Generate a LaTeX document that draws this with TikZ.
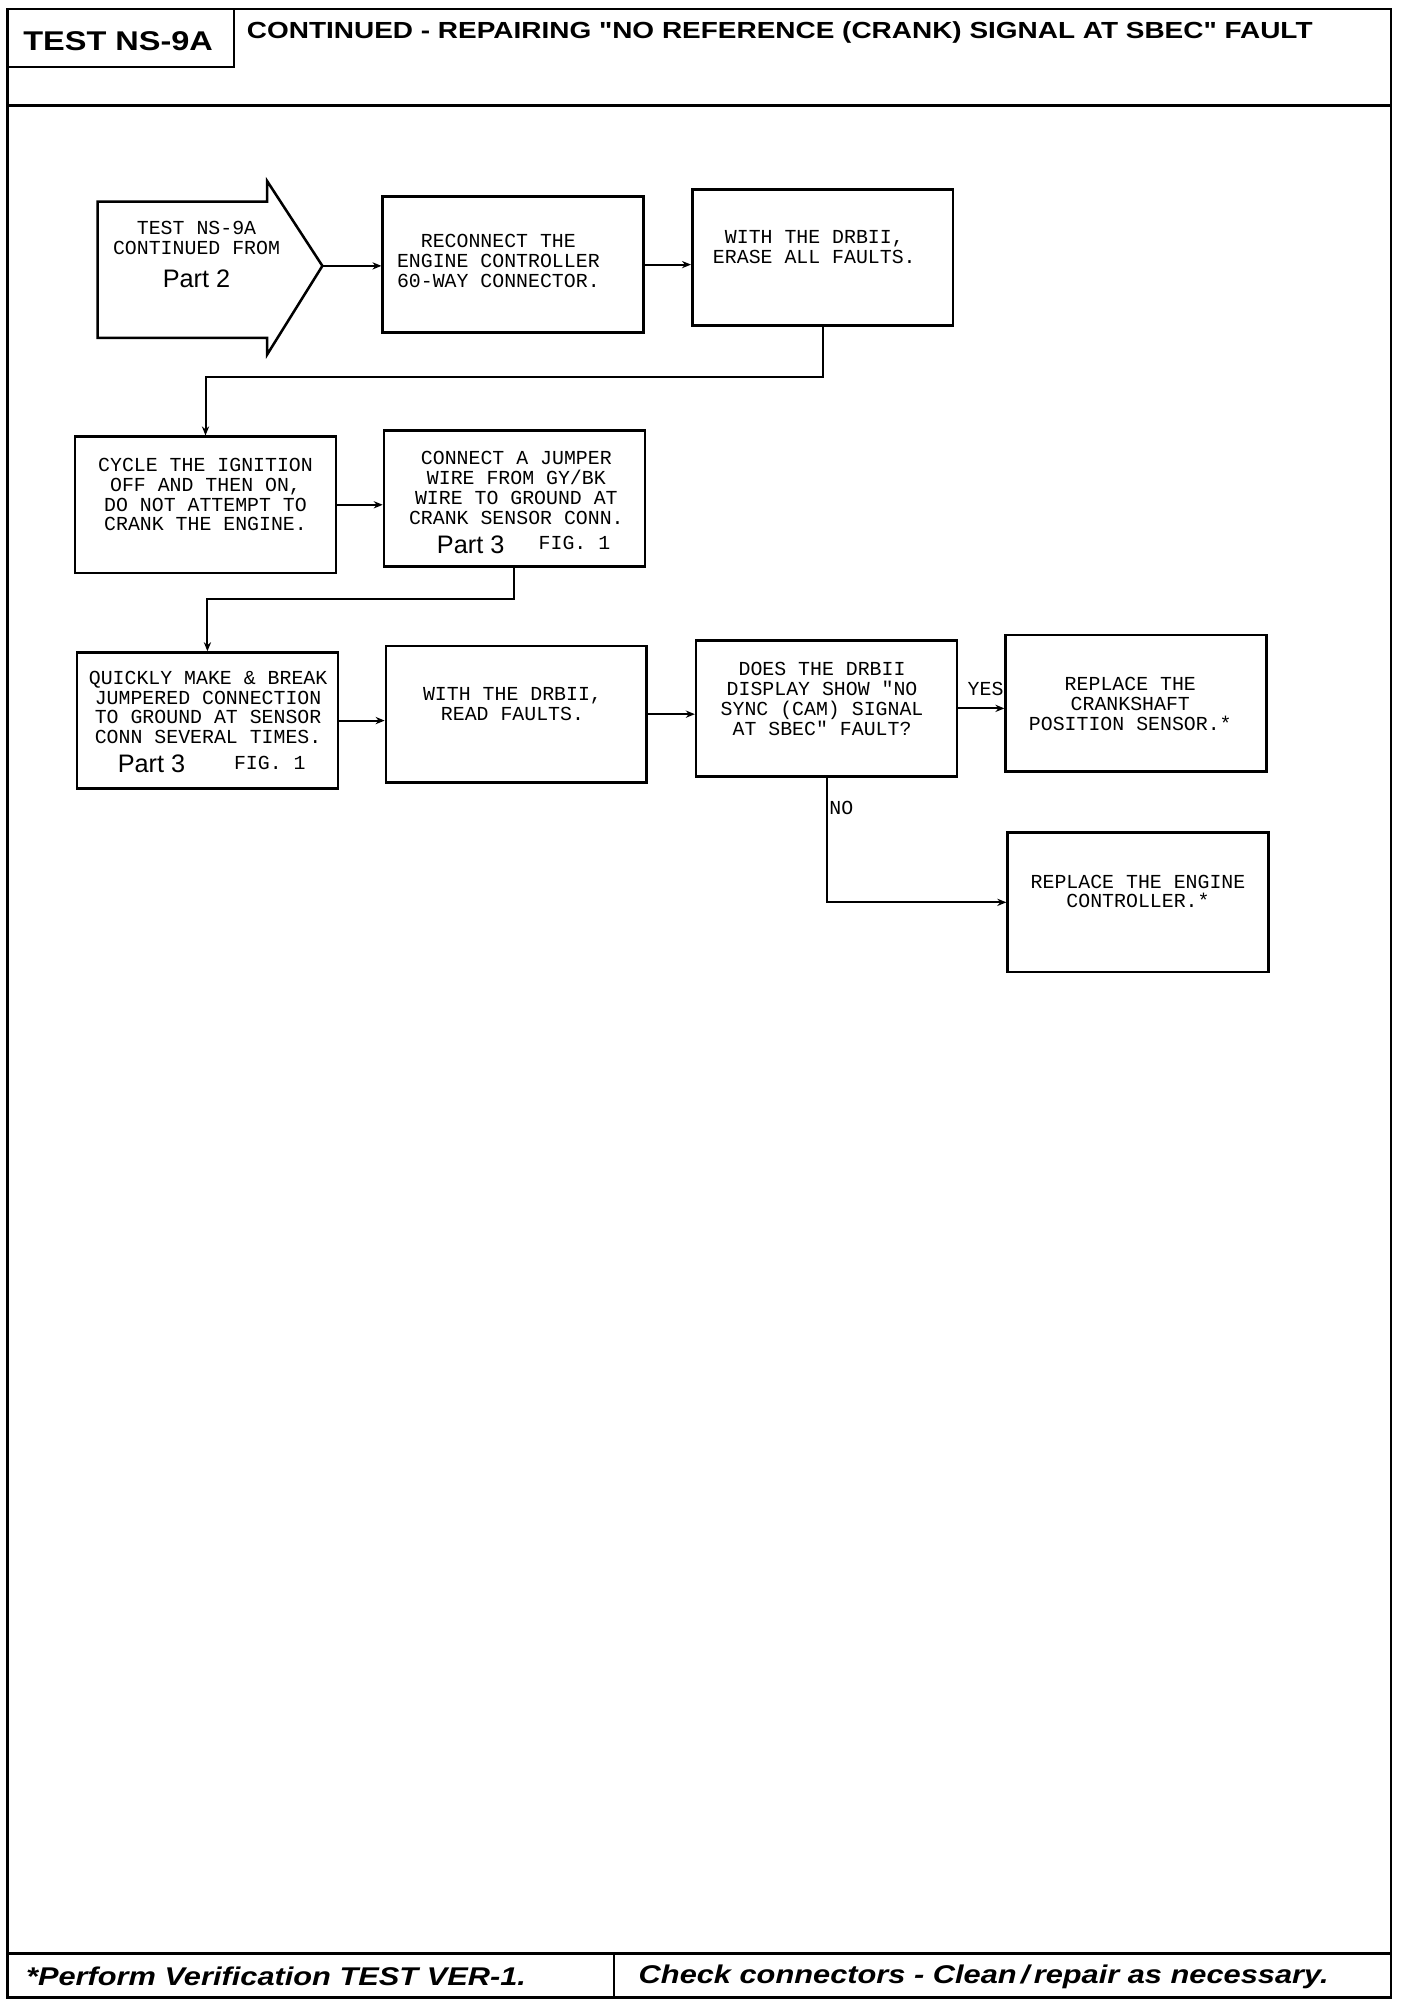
\documentclass[tikz,border=0pt]{standalone}
\usepackage{fontspec}
\setmainfont{Liberation Sans}
\newfontfamily\plotfont{Liberation Mono}
\newfontfamily\headfont[FakeStretch=1.2]{Liberation Sans}
\usetikzlibrary{arrows.meta, calc}
\tikzset{
    stepbox/.style={draw, line width=1.4pt, minimum width=5.075cm, minimum height=2.65cm},
    steptext/.style={align=center, inner sep=0pt, font={\plotfont\fontsize{11}{11}\selectfont}},
    stepline/.style={line width=1.4pt, line join=miter},
    flowline/.style={-{Stealth[length=5pt, width=4pt]}, line width=1.1pt},
    flowlabel/.style={inner sep=2pt, font={\plotfont\fontsize{11}{11}\selectfont}},
    frameline/.style={line width=1.4pt},
    headtext/.style={inner sep=0pt, font={\headfont\bfseries\fontsize{12.9}{12.9}\selectfont}},
    foottext/.style={inner sep=0pt, font={\headfont\bfseries\itshape\fontsize{14.2}{14.2}\selectfont}}
}
\newcommand{\partlabel}[1]{{\normalfont\fontsize{14}{14}\selectfont #1}}

\begin{document}
\begin{tikzpicture}[x=0.025cm, y=-0.025cm]
  \useasboundingbox (0,0) rectangle (1096,1568);
  % page frame
  \draw[frameline] (6,7) rectangle (1083,1555);
  \draw[frameline] (6,52) -- (182,52) -- (182,7);
  \draw[frameline] (6,82) -- (1083,82);
  \draw[frameline] (6,1521) -- (1083,1521);
  \draw[frameline] (478,1521) -- (478,1555);
  \node[headtext, font={\headfont\bfseries\fontsize{15}{15}\selectfont}] (testname) at (92,32) {TEST NS-9A};
  \node[headtext, anchor=west] (heading) at (192,25) {CONTINUED - REPAIRING "NO REFERENCE (CRANK) SIGNAL AT SBEC" FAULT};
  \node[foottext, anchor=west] (verify) at (20,1539) {*Perform Verification TEST VER-1.};
  \node[foottext, anchor=west] (checkconn) at (497,1539) {Check connectors - Clean\,/\,repair as necessary.};

  % entry arrow
  \draw[stepline] (76,157) -- (208,157) -- (208,141) -- (251,207) -- (208,276) -- (208,263) -- (76,263) -- cycle;
  \coordinate (starttip) at (251,207);
  \node[steptext] (starttext) at (153,198) {TEST NS-9A\\CONTINUED FROM\\[7pt]\partlabel{Part 2}};

  % boxes
  \node[stepbox] (reconnect) at (399.5,206) {};
  \node[stepbox] (erase) at (640.5,200.5) {};
  \node[stepbox] (cycle) at (160,393) {};
  \node[stepbox] (connect) at (400.5,388) {};
  \node[stepbox] (quickly) at (161.5,561) {};
  \node[stepbox] (read) at (402,556) {};
  \node[stepbox] (does) at (643.5,551.5) {};
  \node[stepbox] (crank) at (884.5,547.5) {};
  \node[stepbox, minimum height=2.72cm] (ecm) at (886,702.5) {};

  % box texts
  \node[steptext] (reconnecttext) at (388,203) {RECONNECT THE\\ENGINE CONTROLLER\\60-WAY CONNECTOR.};
  \node[steptext] (erasetext) at (634,192) {WITH THE DRBII,\\ERASE ALL FAULTS.};
  \node[steptext] (cycletext) at (160,385) {CYCLE THE IGNITION\\OFF AND THEN ON,\\DO NOT ATTEMPT TO\\CRANK THE ENGINE.};
  \node[steptext] (connecttext) at (402,391) {CONNECT A JUMPER\\WIRE FROM GY/BK\\WIRE TO GROUND AT\\CRANK SENSOR CONN.\\[5pt]\hspace*{8pt}\partlabel{Part 3}\hspace{19pt}\raisebox{2pt}{FIG. 1}};
  \node[steptext] (quicklytext) at (162,562) {QUICKLY MAKE \& BREAK\\JUMPERED CONNECTION\\TO GROUND AT SENSOR\\CONN SEVERAL TIMES.\\[5pt]\hspace*{4pt}\partlabel{Part 3}\hspace{27pt}\raisebox{2pt}{FIG. 1}};
  \node[steptext] (readtext) at (399,548) {WITH THE DRBII,\\READ FAULTS.};
  \node[steptext] (doestext) at (640,544) {DOES THE DRBII\\DISPLAY SHOW "NO\\SYNC (CAM) SIGNAL\\AT SBEC" FAULT?};
  \node[steptext] (cranktext) at (880,548) {REPLACE THE\\CRANKSHAFT\\POSITION SENSOR.*};
  \node[steptext] (ecmtext) at (886,694) {REPLACE THE ENGINE\\CONTROLLER.*};

  % connectors
  \draw[flowline] (starttip) -- (starttip -| reconnect.west);
  \draw[flowline] (reconnect) -- (reconnect -| erase.west);
  \draw[flowline] (erase.south) -- ++(0,39) -| (cycle.north);
  \draw[flowline] (cycle) -- (cycle -| connect.west);
  \draw[flowline] (connect.south) -- ++(0,24) -| (quickly.north);
  \draw[flowline] (quickly) -- (quickly -| read.west);
  \draw[flowline] (read) -- (read -| does.west);
  \draw[flowline] (does) -- (does -| crank.west) node[flowlabel, above left, inner xsep=0pt, inner ysep=6.5pt] (yes) {YES};
  \draw[flowline] (does.south) |- node[flowlabel, right, inner xsep=1pt, pos=0.12] (no) {NO} (ecm);
\end{tikzpicture}
\end{document}
